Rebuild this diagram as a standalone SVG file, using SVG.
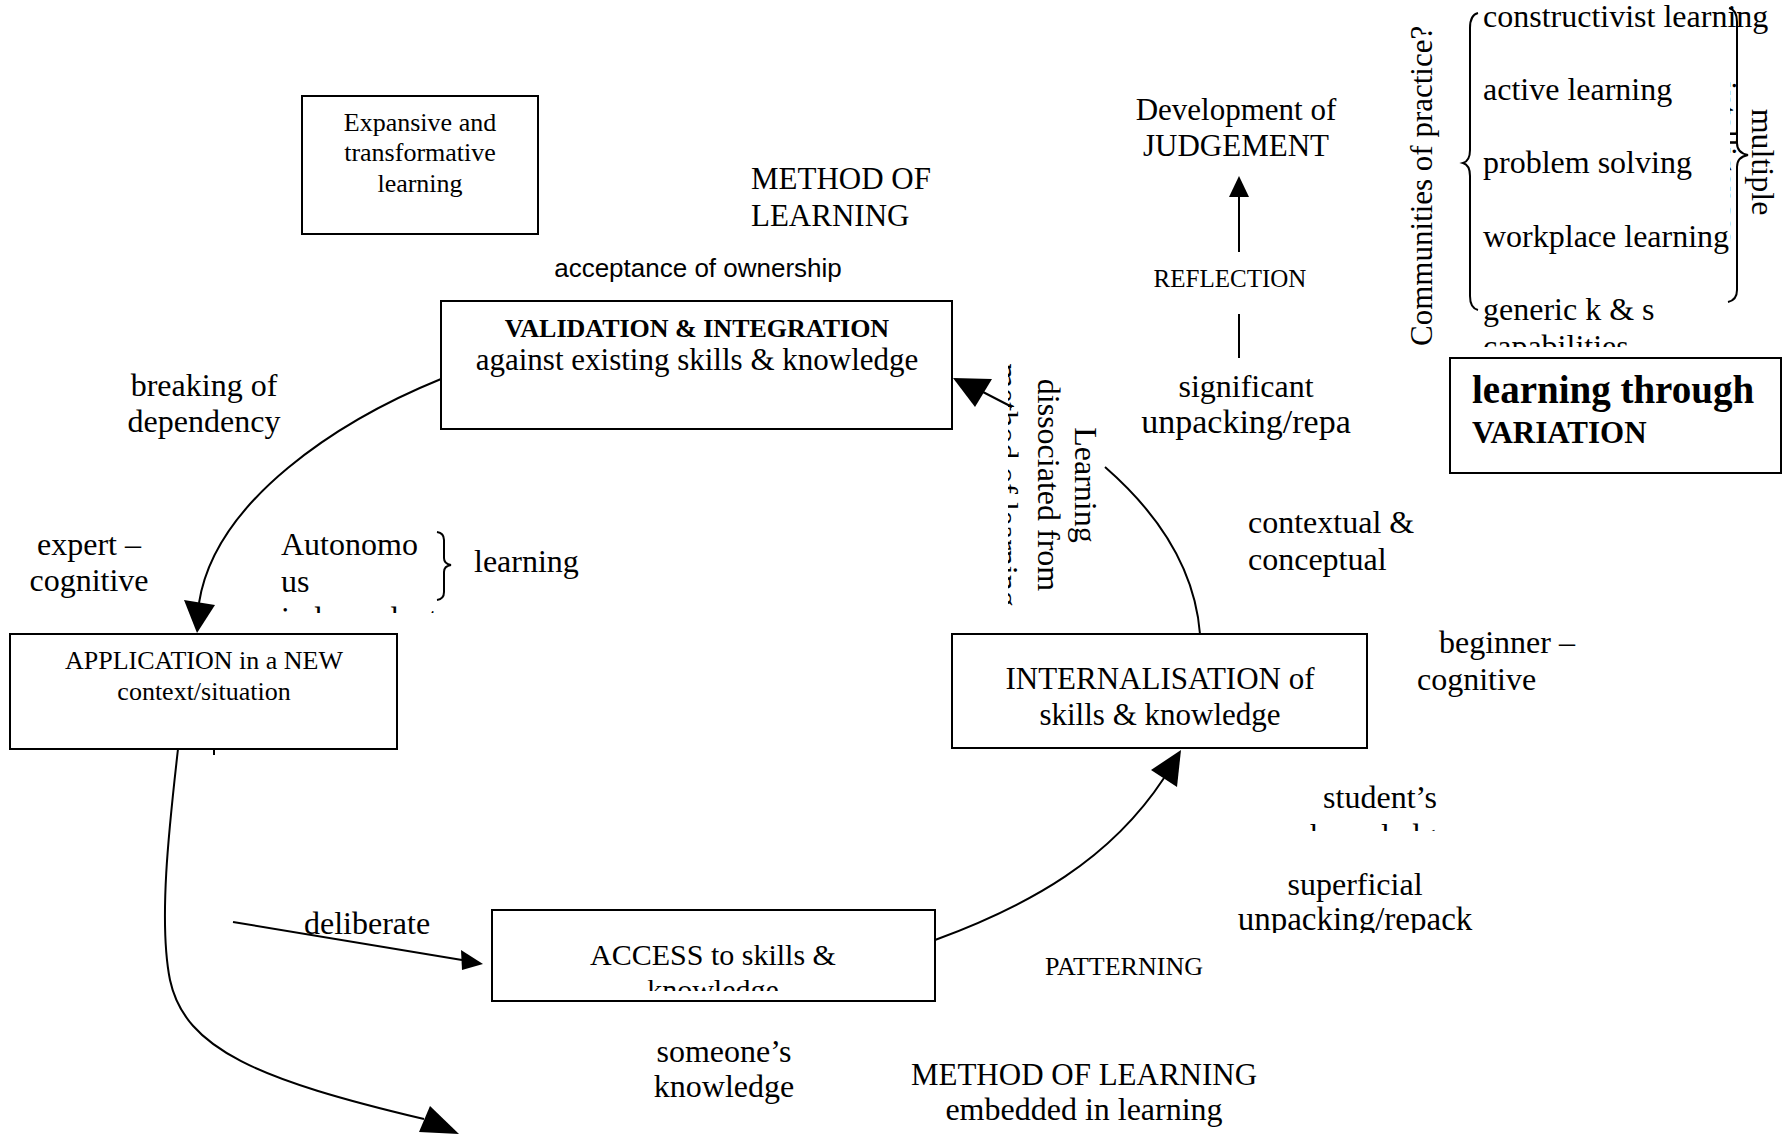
<svg xmlns="http://www.w3.org/2000/svg" width="1783" height="1143" viewBox="0 0 1783 1143">
<style>
.box{fill:none;stroke:#000;stroke-width:2}
.ln{fill:none;stroke:#000;stroke-width:2}
.head{fill:#000;stroke:none}
text{font-family:"Liberation Serif","Times New Roman",serif;fill:#000}
.sans{font-family:"Liberation Sans",Arial,sans-serif}
.m{text-anchor:middle}
.b{font-weight:bold}
</style>
<defs>
<clipPath id="cAuto"><rect x="270" y="520" width="175" height="93"/></clipPath>
<clipPath id="cAccess"><rect x="492" y="910" width="443" height="81"/></clipPath>
<clipPath id="cStudent"><rect x="1280" y="770" width="200" height="61"/></clipPath>
<clipPath id="cSuper"><rect x="1200" y="860" width="320" height="73"/></clipPath>
<clipPath id="cCap"><rect x="1470" y="300" width="300" height="47"/></clipPath>
<clipPath id="cMethod"><rect x="1008" y="340" width="100" height="300"/></clipPath>
<clipPath id="cIntel"><rect x="1730" y="60" width="50" height="200"/></clipPath>
</defs>
<rect width="1783" height="1143" fill="#fff"/>

<g id="expansive">
<rect class="box" x="302" y="96" width="236" height="138"/>
<text class="m" x="420" y="131" font-size="26">Expansive and</text>
<text class="m" x="420" y="161" font-size="26">transformative</text>
<text class="m" x="420" y="192" font-size="26">learning</text>
</g>

<g id="method-top">
<text x="751" y="189" font-size="31">METHOD OF</text>
<text x="751" y="226" font-size="31">LEARNING</text>
</g>

<g id="acceptance"><text class="sans m" x="698" y="277" font-size="26">acceptance of ownership</text></g>

<g id="validation">
<rect class="box" x="441" y="301" width="511" height="128"/>
<text class="m b" x="697" y="337" font-size="26">VALIDATION &amp; INTEGRATION</text>
<text class="m" x="697" y="370" font-size="31">against existing skills &amp; knowledge</text>
</g>

<g id="breaking">
<text class="m" x="204" y="396" font-size="32">breaking of</text>
<text class="m" x="204" y="432" font-size="32">dependency</text>
</g>

<g id="expert">
<text class="m" x="89" y="555" font-size="32">expert –</text>
<text class="m" x="89" y="591" font-size="32">cognitive</text>
</g>

<g id="autonomous">
<g clip-path="url(#cAuto)">
<text x="281" y="555" font-size="32">Autonomo</text>
<text x="281" y="592" font-size="32">us</text>
<text x="281" y="629" font-size="32">independent</text>
</g>
<path class="ln" d="M437,532 Q444,533 444,540 L444,558 Q444,564 451,565 Q444,566 444,572 L444,592 Q444,599 437,600"/>
<text x="474" y="572" font-size="32">learning</text>
</g>

<g id="application">
<rect class="box" x="10" y="634" width="387" height="115"/>
<text class="m" x="204" y="669" font-size="26">APPLICATION in a NEW</text>
<text class="m" x="204" y="700" font-size="26">context/situation</text>
</g>

<g id="deliberate"><text x="304" y="934" font-size="32">deliberate</text></g>

<g id="access">
<rect class="box" x="492" y="910" width="443" height="91"/>
<g clip-path="url(#cAccess)">
<text class="m" x="713" y="965" font-size="30">ACCESS to skills &amp;</text>
<text class="m" x="713" y="1000" font-size="30">knowledge</text>
</g>
</g>

<g id="someones">
<text class="m" x="724" y="1062" font-size="32">someone’s</text>
<text class="m" x="724" y="1097" font-size="32">knowledge</text>
</g>

<g id="method-bottom">
<text class="m" x="1084" y="1085" font-size="31">METHOD OF LEARNING</text>
<text class="m" x="1084" y="1120" font-size="32">embedded in learning</text>
</g>

<g id="patterning"><text x="1045" y="975" font-size="26">PATTERNING</text></g>

<g id="superficial" clip-path="url(#cSuper)">
<text class="m" x="1355" y="895" font-size="32">superficial</text>
<text class="m" x="1355" y="930" font-size="33">unpacking/repack</text>
</g>

<g id="students" clip-path="url(#cStudent)">
<text class="m" x="1380" y="808" font-size="32">student’s</text>
<text class="m" x="1380" y="846" font-size="32">knowledge</text>
</g>

<g id="internalisation">
<rect class="box" x="952" y="634" width="415" height="114"/>
<text class="m" x="1160" y="689" font-size="31">INTERNALISATION of</text>
<text class="m" x="1160" y="725" font-size="31">skills &amp; knowledge</text>
</g>

<g id="beginner">
<text x="1439" y="653" font-size="32">beginner –</text>
<text x="1417" y="690" font-size="32">cognitive</text>
</g>

<g id="contextual">
<text x="1248" y="533" font-size="32">contextual &amp;</text>
<text x="1248" y="570" font-size="32">conceptual</text>
</g>

<g id="significant">
<text class="m" x="1246" y="397" font-size="32">significant</text>
<text class="m" x="1246" y="433" font-size="34">unpacking/repa</text>
</g>

<g id="reflection"><text class="m" x="1230" y="287" font-size="25">REFLECTION</text></g>

<g id="judgement">
<text class="m" x="1236" y="120" font-size="31">Development of</text>
<text class="m" x="1236" y="156" font-size="31">JUDGEMENT</text>
</g>

<g id="dissociated">
<text class="m" transform="translate(1075,485) rotate(90)" font-size="32">Learning</text>
<text class="m" transform="translate(1038,485) rotate(90)" font-size="32">dissociated from</text>
<g clip-path="url(#cMethod)">
<text class="m" transform="translate(996,485) rotate(90)" font-size="32">method of learning</text>
</g>
</g>

<g id="communities">
<text transform="translate(1432,346) rotate(-90)" font-size="31">Communities of practice?</text>
<path class="ln" d="M1478,13 Q1470,15 1470,28 L1470,150 Q1470,161 1463,163 Q1470,165 1470,176 L1470,296 Q1470,308 1478,310"/>
</g>

<g id="list">
<text x="1483" y="27" font-size="32">constructivist learning</text>
<text x="1483" y="100" font-size="32">active learning</text>
<text x="1483" y="173" font-size="32">problem solving</text>
<text x="1483" y="247" font-size="32">workplace learning</text>
<text x="1483" y="320" font-size="32">generic k &amp; s</text>
<g clip-path="url(#cCap)"><text x="1483" y="357" font-size="32">capabilities</text></g>
</g>

<g id="multiple">
<path class="ln" d="M1729,8 Q1737,10 1737,22 L1737,143 Q1737,153 1748,155 Q1737,157 1737,167 L1737,290 Q1737,300 1728,302"/>
<text class="m" transform="translate(1752,162) rotate(90)" font-size="32">multiple</text>
<g clip-path="url(#cIntel)">
<text class="m" transform="translate(1715,162) rotate(90)" font-size="32">intelligences</text>
</g>
</g>

<g id="variation">
<rect class="box" x="1450" y="358" width="331" height="115"/>
<text class="b" x="1472" y="403" font-size="39">learning through</text>
<text class="b" x="1472" y="443" font-size="31">VARIATION</text>
</g>

<g id="connectors">
<path class="ln" d="M441,379 C340,420 215,500 199,603"/>
<polygon class="head" points="197,633 184,600 215,605"/>
<line class="ln" x1="1012" y1="407" x2="983" y2="392"/>
<polygon class="head" points="953,378 992,379 975,407"/>
<path class="ln" d="M1105,467 C1160,515 1195,570 1200,634"/>
<line class="ln" x1="1239" y1="252" x2="1239" y2="196"/>
<polygon class="head" points="1239,176 1229,197 1249,197"/>
<line class="ln" x1="1239" y1="314" x2="1239" y2="358"/>
<line class="ln" x1="233" y1="922" x2="462" y2="960"/>
<polygon class="head" points="483,964 461,950 462,970"/>
<path class="ln" d="M935,940 C1030,905 1110,860 1164,778"/>
<polygon class="head" points="1181,750 1151,770 1177,787"/>
<path class="ln" d="M178,749 C170,820 158,920 170,980 C185,1050 260,1080 424,1119"/>
<polygon class="head" points="459,1134 430,1106 419,1132"/>
<line class="ln" x1="214" y1="749" x2="214" y2="755"/>
</g>
</svg>
